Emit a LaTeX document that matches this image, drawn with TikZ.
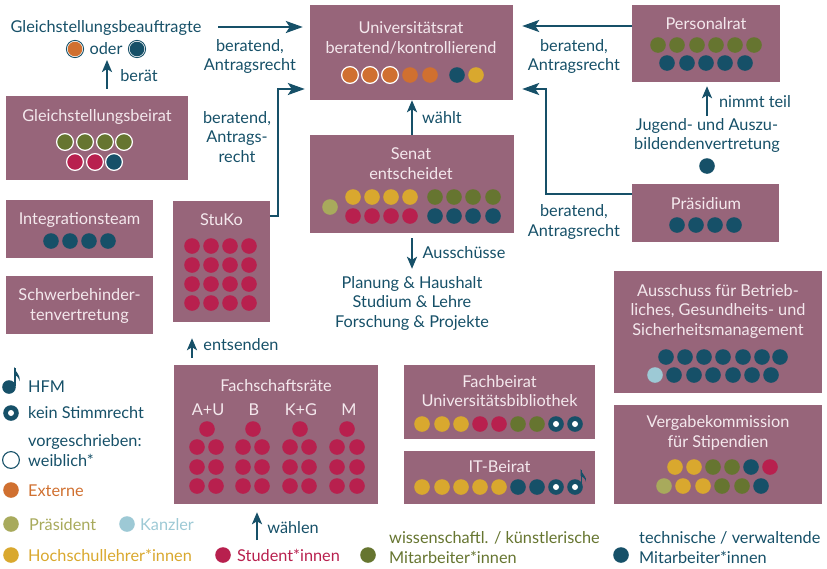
\documentclass[tikz,border=0pt]{standalone}
\usepackage{fontspec}
\setmainfont{Lato}
\usetikzlibrary{arrows.meta,positioning}
\definecolor{uniteal}{RGB}{22,80,104}
\definecolor{unimauve}{RGB}{151,101,122}
\definecolor{boxtext}{RGB}{244,232,237}
\definecolor{extorange}{RGB}{208,112,48}
\definecolor{profyellow}{RGB}{217,168,46}
\definecolor{studred}{RGB}{184,32,78}
\definecolor{wimigreen}{RGB}{102,117,48}
\definecolor{praesgreen}{RGB}{168,170,92}
\definecolor{kanzblue}{RGB}{157,201,213}

\begin{document}
\begin{tikzpicture}[x=1pt, y=-1pt,
  every node/.style={font=\fontsize{16.3}{19.5}\selectfont, inner sep=1pt, align=center},
  box/.style={fill=unimauve, inner sep=0pt},
  title/.style={text=boxtext},
  lbl/.style={text=uniteal},
  arr/.style={draw=uniteal, line width=2.5pt, -{Stealth[length=17pt,width=12pt,inset=4pt]}},
  arrs/.style={draw=uniteal, line width=2.5pt, -{Stealth[length=12pt,width=10pt,inset=3pt]}},
  fem/.style={fill=#1, draw=white, line width=1.2pt}
]
  \useasboundingbox (0,0) rectangle (827,568);

  \node[box, minimum width=203pt, minimum height=95pt] (unirat) at (411.5,52.5) {};
  \node[box, minimum width=148pt, minimum height=77pt] (personalrat) at (706,43.5) {};
  \node[box, minimum width=182pt, minimum height=84pt] (gsbeirat) at (97,138) {};
  \node[box, minimum width=204pt, minimum height=98pt] (senat) at (412,184) {};
  \node[box, minimum width=97pt, minimum height=121pt] (stuko) at (221.5,261.5) {};
  \node[box, minimum width=147pt, minimum height=58pt] (integration) at (79.5,229) {};
  \node[box, minimum width=147pt, minimum height=58pt] (schwerb) at (79.5,305) {};
  \node[box, minimum width=147pt, minimum height=58pt] (praesidium) at (705.5,213) {};
  \node[box, minimum width=208pt, minimum height=122pt] (ausschuss) at (718,332) {};
  \node[box, minimum width=208pt, minimum height=99pt] (vergabe) at (718,454.5) {};
  \node[box, minimum width=191pt, minimum height=74pt] (fachbeirat) at (499.5,402) {};
  \node[box, minimum width=191pt, minimum height=53pt] (itbeirat) at (499.5,477.5) {};
  \node[box, minimum width=204pt, minimum height=139pt] (fachschaft) at (276,434.5) {};

  \node[title] (uniratT) at (411,38) {Universitätsrat\\beratend/kontrollierend};
  \node[title] (personalratT) at (706,24) {Personalrat};
  \node[title] (gsbeiratT) at (97,117) {Gleichstellungsbeirat};
  \node[title] (senatT) at (411,163.5) {Senat\\entscheidet};
  \node[title] (stukoT) at (221.5,220) {StuKo};
  \node[title] (integrationT) at (79.5,220) {Integrationsteam};
  \node[title] (schwerbT) at (79.5,306) {Schwerbehinder-\\tenvertretung};
  \node[title] (praesidiumT) at (706,204) {Präsidium};
  \node[title] (ausschussT) at (718,311) {Ausschuss für Betrieb-\\liches, Gesundheits- und\\Sicherheitsmanagement};
  \node[title] (vergabeT) at (718,433) {Vergabekommission\\für Stipendien};
  \node[title] (fachbeiratT) at (499.5,391) {Fachbeirat\\Universitätsbibliothek};
  \node[title] (itbeiratT) at (499.5,467) {IT-Beirat};
  \node[title] (fachschaftT) at (276,386) {Fachschaftsräte};
  \node[title] (colAU) at (208,410) {A+U};
  \node[title] (colB) at (254,410) {B};
  \node[title] (colKG) at (301,410) {K+G};
  \node[title] (colM) at (349,410) {M};

  \node[lbl] (gsb) at (106,28) {Gleichstellungsbeauftragte};
  \node[lbl] (oder) at (106,49) {oder};
  \node[lbl] (beraet) at (139,76) {berät};
  \node[lbl] (lblGsb) at (250,56.5) {beratend,\\Antragsrecht};
  \node[lbl] (lblStuko) at (237,137) {beratend,\\Antrags-\\recht};
  \node[lbl] (lblPr) at (574,56.5) {beratend,\\Antragsrecht};
  \node[lbl] (lblPraes) at (574,222) {beratend,\\Antragsrecht};
  \node[lbl] (waehlt) at (442,118) {wählt};
  \node[lbl] (ausschuesse) at (464,253) {Ausschüsse};
  \node[lbl] (planung) at (412,303) {Planung \& Haushalt\\Studium \& Lehre\\Forschung \& Projekte};
  \node[lbl] (nimmtteil) at (755,102) {nimmt teil};
  \node[lbl] (jav) at (707,135.5) {Jugend- und Auszu-\\bildendenvertretung};
  \node[lbl] (entsenden) at (241,345) {entsenden};
  \node[lbl] (waehlen) at (293,528) {wählen};

  \coordinate (ba) at (107,60);
  \coordinate (ga) at (218,27);
  \coordinate (sa) at (278,216);
  \coordinate (sb) at (278,89);
  \coordinate (pa) at (600,26);
  \coordinate (pb) at (546,194);
  \coordinate (pc) at (546,89);
  \coordinate (ea) at (192,358);
  \coordinate (wa) at (257,540);

  \draw[arrs, shorten <=7pt] (ba |- gsbeirat.north) -- (ba);
  \draw[arr, shorten >=7pt] (ga) -- (unirat.west |- ga);
  \draw[arr, shorten >=5pt] (stuko.east |- sa) -- (sa) -- (sb) -- (unirat.west |- sb);
  \draw[arr, shorten >=9pt] (personalrat.west |- pa) -- (unirat.east |- pa);
  \draw[arr, shorten >=9pt] (praesidium.west |- pb) -- (pb) -- (pc) -- (unirat.east |- pc);
  \draw[arrs] (senat.north) -- (senat.north |- unirat.south);
  \draw[arrs, shorten <=5pt, shorten >=6pt] (senat.south) -- (senat.south |- planung.north);
  \draw[arrs, shorten <=1pt, shorten >=4pt] (jav.north) -- (jav.north |- personalrat.south);
  \draw[arrs, shorten >=16pt] (ea) -- (ea |- stuko.south);
  \draw[arrs, shorten >=8pt] (wa) -- (wa |- fachschaft.south);

  \draw[uniteal, line width=0.9pt] (75,49) circle (8.6pt) (137,49) circle (8.6pt);
  \fill[extorange] (75,49) circle (7.3pt);
  \fill[uniteal] (137,49) circle (7.3pt);

  \foreach \x in {350,370,390} \filldraw[fem=extorange] (\x,75) circle (8.4pt);
  \foreach \x in {410,430} \fill[extorange] (\x,75) circle (7.8pt);
  \fill[uniteal] (457,75) circle (7.8pt);
  \fill[profyellow] (476,75) circle (7.8pt);

  \foreach \x in {658,677,697,716,735,754} \fill[wimigreen] (\x,45) circle (7.8pt);
  \foreach \x in {667,687,706,725,745} \fill[uniteal] (\x,63) circle (7.8pt);

  \foreach \x in {65,85,105,124} \filldraw[fem=wimigreen] (\x,142) circle (8.4pt);
  \foreach \x in {75,95} \filldraw[fem=studred] (\x,162) circle (8.4pt);
  \filldraw[fem=uniteal] (114,162) circle (8.4pt);

  \fill[praesgreen] (330,207) circle (7.8pt);
  \foreach \x in {353,372,391,410} {
    \fill[profyellow] (\x,197) circle (7.8pt);
    \fill[studred] (\x,216) circle (7.8pt);
  }
  \foreach \x in {435,454,473,493} {
    \fill[wimigreen] (\x,197) circle (7.8pt);
    \fill[uniteal] (\x,216) circle (7.8pt);
  }

  \foreach \x in {192,211,230,249}
    \foreach \y in {246,265,284,303}
      \fill[studred] (\x,\y) circle (7.8pt);

  \foreach \x in {51,70,89,108} \fill[uniteal] (\x,241) circle (7.8pt);
  \foreach \x in {677,696,715,734} \fill[uniteal] (\x,225) circle (7.8pt);
  \fill[uniteal] (707,166) circle (7.8pt);

  \foreach \x in {666,685,704,723,743,762,780} \fill[uniteal] (\x,357) circle (7.8pt);
  \fill[kanzblue] (655,375) circle (7.8pt);
  \foreach \x in {674,694,713,733,752,771} \fill[uniteal] (\x,375) circle (7.8pt);

  \foreach \x/\c in {675/profyellow,694/profyellow,713/wimigreen,732/wimigreen,751/uniteal,770/studred}
    \fill[\c] (\x,467) circle (7.8pt);
  \foreach \x/\c in {664/praesgreen,683/profyellow,703/profyellow,722/wimigreen,742/wimigreen,761/uniteal}
    \fill[\c] (\x,486) circle (7.8pt);

  \foreach \x/\c in {422/profyellow,442/profyellow,461/profyellow,480/studred,499/studred,518/wimigreen,537/wimigreen}
    \fill[\c] (\x,424) circle (7.8pt);
  \foreach \x in {556,575} {
    \fill[uniteal] (\x,424) circle (7.8pt);
    \fill[white] (\x,424) circle (3pt);
  }
  \foreach \x/\c in {422/profyellow,442/profyellow,461/profyellow,480/profyellow,499/profyellow,518/uniteal,537/uniteal}
    \fill[\c] (\x,487) circle (7.8pt);
  \foreach \x in {556,575} {
    \fill[uniteal] (\x,487) circle (7.8pt);
    \fill[white] (\x,487) circle (3pt);
  }
  \draw[uniteal, line width=1.6pt] (581.5,486) -- (581.5,470);
  \fill[uniteal] (580.7,469) .. controls (582,475) and (587,476) .. (586,482) .. controls (585,478) and (583,477) .. (580.7,476) -- cycle;

  \foreach \x in {207,253,300,347} \fill[studred] (\x,429) circle (7.8pt);
  \foreach \x in {197,216,243,262,290,309,337,357}
    \foreach \y in {447,467,486}
      \fill[studred] (\x,\y) circle (7.8pt);

  \fill[uniteal] (9,387) circle (6.8pt);
  \draw[uniteal, line width=1.6pt] (15,386) -- (15,368);
  \fill[uniteal] (14.2,367) .. controls (15.5,373) and (20.5,374) .. (19.5,381) .. controls (18.5,377) and (16.5,376) .. (14.2,374) -- cycle;
  \node[lbl, anchor=west] (hfm) at (27,387) {HFM};
  \fill[uniteal] (11,413) circle (7.8pt);
  \fill[white] (11,413) circle (3pt);
  \node[lbl, anchor=west] (keinstimm) at (27,413) {kein Stimmrecht};
  \node[lbl, anchor=west, align=left] (weiblich) at (27,450.5) {vorgeschrieben:\\weiblich*};
  \draw[uniteal, line width=1.1pt] (11,460) circle (8.4pt);
  \fill[extorange] (11,490) circle (7.8pt);
  \node[anchor=west, text=extorange] (externe) at (27,491) {Externe};
  \fill[praesgreen] (11,524) circle (7.8pt);
  \node[anchor=west, text=praesgreen] (praesident) at (28,525) {Präsident};
  \fill[kanzblue] (127,524) circle (7.8pt);
  \node[anchor=west, text=kanzblue] (kanzler) at (139,525) {Kanzler};
  \fill[profyellow] (11,555) circle (7.8pt);
  \node[anchor=west, text=profyellow] (hsl) at (27,555) {Hochschullehrer*innen};
  \fill[studred] (223,555) circle (7.8pt);
  \node[anchor=west, text=studred] (studis) at (236,555) {Student*innen};
  \fill[wimigreen] (368,555) circle (7.8pt);
  \node[anchor=west, align=left, text=wimigreen] (wimis) at (388,547.5) {wissenschaftl. / künstlerische\\Mitarbeiter*innen};
  \fill[uniteal] (621,555) circle (7.8pt);
  \node[lbl, anchor=west, align=left] (mtv) at (638,547.5) {technische / verwaltende\\Mitarbeiter*innen};
\end{tikzpicture}
\end{document}
